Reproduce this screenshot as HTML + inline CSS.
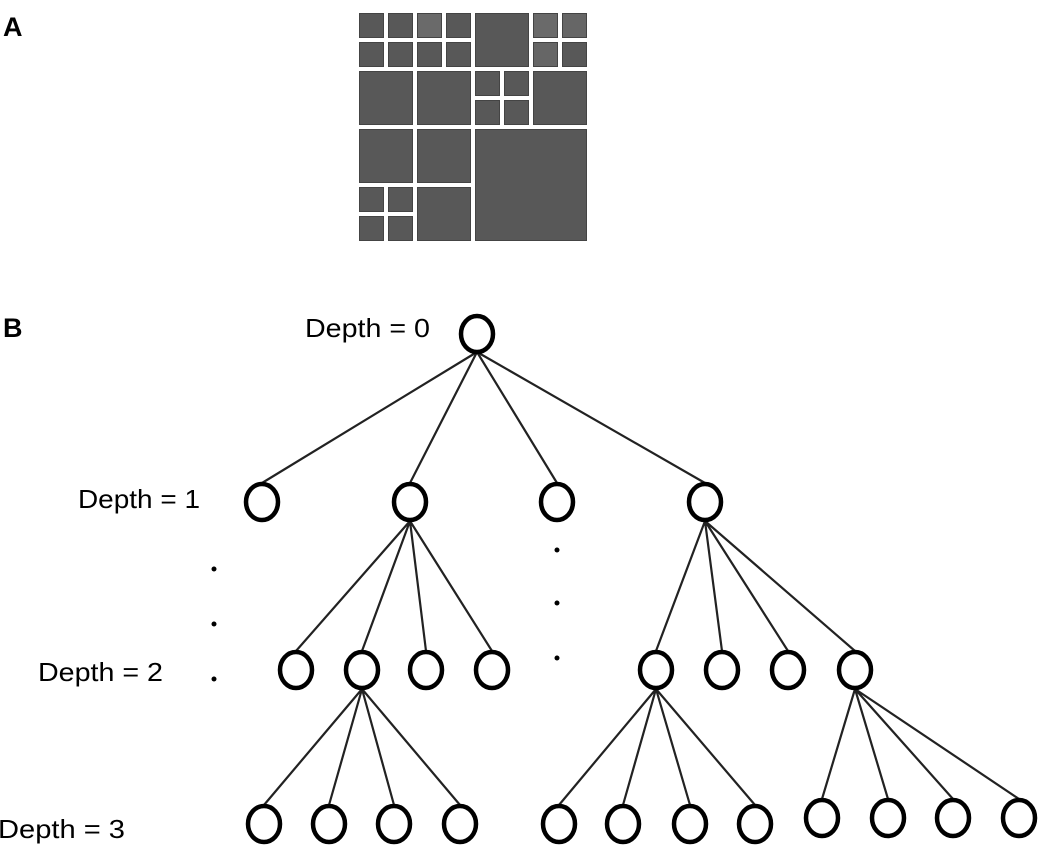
<!DOCTYPE html>
<html><head><meta charset="utf-8"><style>
html,body{margin:0;padding:0;background:#fff;}
svg{display:block;}
text{font-family:"Liberation Sans",sans-serif;}
</style></head><body>
<svg width="1041" height="852" viewBox="0 0 1041 852" xmlns="http://www.w3.org/2000/svg">
<rect width="1041" height="852" fill="#fff"/>
<text x="3" y="36" font-size="27" font-weight="bold">A</text>
<text x="3" y="337" font-size="27" font-weight="bold">B</text>
<g fill="#585858" stroke="#444" stroke-width="1">
<rect x="359.5" y="13.5" width="24" height="24"/><rect x="388.5" y="13.5" width="24" height="24"/><rect x="417.5" y="13.5" width="24" height="24" fill="#6a6a6a"/><rect x="446.5" y="13.5" width="24" height="24"/>
<rect x="359.5" y="42.5" width="24" height="24"/><rect x="388.5" y="42.5" width="24" height="24"/><rect x="417.5" y="42.5" width="24" height="24"/><rect x="446.5" y="42.5" width="24" height="24"/>
<rect x="359.5" y="71.5" width="53" height="53"/><rect x="417.5" y="71.5" width="53" height="53"/>
<rect x="475.5" y="13.5" width="53" height="53"/>
<rect x="533.5" y="13.5" width="24" height="24" fill="#6a6a6a"/><rect x="562.5" y="13.5" width="24" height="24" fill="#666"/>
<rect x="533.5" y="42.5" width="24" height="24" fill="#666"/><rect x="562.5" y="42.5" width="24" height="24"/>
<rect x="475.5" y="71.5" width="24" height="24"/><rect x="504.5" y="71.5" width="24" height="24"/>
<rect x="475.5" y="100.5" width="24" height="24"/><rect x="504.5" y="100.5" width="24" height="24"/>
<rect x="533.5" y="71.5" width="53" height="53"/>
<rect x="359.5" y="129.5" width="53" height="53"/><rect x="417.5" y="129.5" width="53" height="53"/>
<rect x="359.5" y="187.5" width="24" height="24"/><rect x="388.5" y="187.5" width="24" height="24"/>
<rect x="359.5" y="216.5" width="24" height="24"/><rect x="388.5" y="216.5" width="24" height="24"/>
<rect x="417.5" y="187.5" width="53" height="53"/>
<rect x="475.5" y="129.5" width="111" height="111"/>
</g>
<g font-size="26" fill="#000">
<text x="305" y="337" textLength="125" lengthAdjust="spacingAndGlyphs">Depth = 0</text>
<text x="78" y="508" textLength="122" lengthAdjust="spacingAndGlyphs">Depth = 1</text>
<text x="38" y="681" textLength="125" lengthAdjust="spacingAndGlyphs">Depth = 2</text>
<text x="-2" y="838" textLength="127" lengthAdjust="spacingAndGlyphs">Depth = 3</text>
</g>
<g fill="#000">
<circle cx="214" cy="569" r="2.5"/><circle cx="214" cy="624" r="2.5"/><circle cx="214" cy="679" r="2.5"/>
<circle cx="557" cy="550" r="2.5"/><circle cx="557" cy="603" r="2.5"/><circle cx="557" cy="658" r="2.5"/>
</g>
<g stroke="#222" stroke-width="2.2" fill="none">
<path d="M477 352 L262 483 M477 352 L410 483 M477 352 L557 483 M477 352 L705 483"/>
<path d="M410 521 L296 651 M410 521 L362 651 M410 521 L426 651 M410 521 L492 651"/>
<path d="M705 521 L656 651 M705 521 L722 651 M705 521 L788 651 M705 521 L855 651"/>
<path d="M362 689 L264 805 M362 689 L329 805 M362 689 L394 805 M362 689 L460 805"/>
<path d="M656 689 L559 805 M656 689 L623 805 M656 689 L690 805 M656 689 L755 805"/>
<path d="M855 689 L822 799 M855 689 L888 799 M855 689 L953 799 M855 689 L1019 799"/>
</g>
<g stroke="#000" stroke-width="4.5" fill="#fff">
<ellipse cx="477" cy="334" rx="16" ry="18"/>
<ellipse cx="262" cy="502" rx="16" ry="18"/><ellipse cx="410" cy="502" rx="16" ry="18"/><ellipse cx="557" cy="502" rx="16" ry="18"/><ellipse cx="705" cy="502" rx="16" ry="18"/>
<ellipse cx="296" cy="670" rx="16" ry="18"/><ellipse cx="362" cy="670" rx="16" ry="18"/><ellipse cx="426" cy="670" rx="16" ry="18"/><ellipse cx="492" cy="670" rx="16" ry="18"/>
<ellipse cx="656" cy="670" rx="16" ry="18"/><ellipse cx="722" cy="670" rx="16" ry="18"/><ellipse cx="788" cy="670" rx="16" ry="18"/><ellipse cx="855" cy="670" rx="16" ry="18"/>
<ellipse cx="264" cy="824" rx="16" ry="18"/><ellipse cx="329" cy="824" rx="16" ry="18"/><ellipse cx="394" cy="824" rx="16" ry="18"/><ellipse cx="460" cy="824" rx="16" ry="18"/>
<ellipse cx="559" cy="824" rx="16" ry="18"/><ellipse cx="623" cy="824" rx="16" ry="18"/><ellipse cx="690" cy="824" rx="16" ry="18"/><ellipse cx="755" cy="824" rx="16" ry="18"/>
<ellipse cx="822" cy="818" rx="16" ry="18"/><ellipse cx="888" cy="818" rx="16" ry="18"/><ellipse cx="953" cy="818" rx="16" ry="18"/><ellipse cx="1019" cy="818" rx="16" ry="18"/>
</g>
</svg>
</body></html>
